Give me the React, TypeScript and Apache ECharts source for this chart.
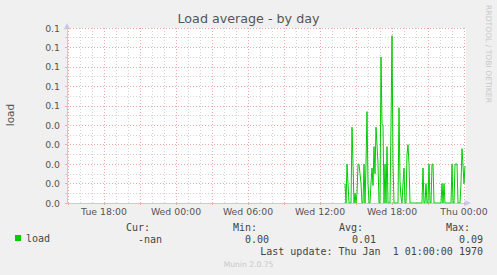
import React, { useEffect, useRef } from "react";
import * as echarts from "echarts";

// Time axis: one sample every 5 minutes, from Tue 14:55 to Thu 00:10
const dayNames = ["Tue", "Wed", "Thu"];
const firstSampleMinute = 14 * 60 + 55;
const stepMinutes = 5;
const sampleCount = 400;

// Load samples: the series starts at Wed 14:05 (sample index 278); earlier samples are unknown (nan)
const loadFirstIndex = 278;
const loadValues = [
  0.01, 0.0, 0.02, 0.01, 0.0, 0.0, 0.0, 0.039, 0.02, 0.0,
  0.005, 0.0, 0.005, 0.02, 0.02, 0.015, 0.01, 0.0, 0.0, 0.02,
  0.0, 0.02, 0.047, 0.01, 0.0, 0.0, 0.01, 0.018, 0.009, 0.029,
  0.015, 0.039, 0.03, 0.02, 0.0, 0.0, 0.075, 0.041, 0.04, 0.0,
  0.02, 0.0, 0.029, 0.0, 0.0, 0.0, 0.04, 0.086, 0.02, 0.0,
  0.0, 0.0, 0.0, 0.0, 0.049, 0.011, 0.003, 0.0, 0.01, 0.018,
  0.0, 0.0, 0.025, 0.03, 0.02, 0.0, 0.0, 0.0, 0.0, 0.0,
  0.0, 0.0, 0.0, 0.0, 0.0, 0.0, 0.0, 0.0, 0.018, 0.0,
  0.0, 0.01, 0.0, 0.0, 0.02, 0.0, 0.0, 0.02, 0.02, 0.0,
  0.0, 0.0, 0.0, 0.0, 0.0, 0.0, 0.0, 0.01, 0.0, 0.01,
  0.0, 0.0, 0.0, 0.0, 0.0, 0.0, 0.0, 0.02, 0.0, 0.0,
  0.02, 0.02, 0.02, 0.0, 0.0, 0.0, 0.01, 0.028, 0.019, 0.01,
  0.019,
];

// Y axis: 0 .. 0.09 step 0.01, labels as printed by rrdtool (%.1f)
const yMax = 0.09;
const yStep = 0.01;
const yTickLabels = ["0.0", "0.0", "0.0", "0.0", "0.0", "0.1", "0.1", "0.1", "0.1", "0.1"];

// X axis: labels every 6 hours, major grid every 3 hours, minor grid every hour
const labelEveryHours = 6;
const majorEveryHours = 3;

// Legend / statistics
const seriesName = "load";
const statLabels = ["Cur:", "Min:", "Avg:", "Max:"];
const statValues = ["-nan", "0.00", "0.01", "0.09"];
const lastUpdate = "Last update: Thu Jan  1 01:00:00 1970";
const titleText = "Load average - by day";
const vendorText = "RRDTOOL / TOBI OETIKER";
const footerText = "Munin 2.0.75";

const pad = (n: number) => (n < 10 ? "0" + n : "" + n);
const minuteOf = (i: number) => firstSampleMinute + i * stepMinutes;
const categories = Array.from({ length: sampleCount }, (_, i) => {
  const m = minuteOf(i);
  const d = Math.floor(m / 1440);
  const hh = Math.floor((m % 1440) / 60);
  const mm = m % 60;
  return `${dayNames[d]} ${pad(hh)}:${pad(mm)}`;
});
const isHour = (i: number) => minuteOf(i) % 60 === 0;
const isMajor = (i: number) => minuteOf(i) % (60 * majorEveryHours) === 0;
const isLabel = (i: number) => minuteOf(i) % (60 * labelEveryHours) === 0;

const seriesData: (number | null)[] = Array.from({ length: sampleCount }, () => null);
loadValues.forEach((v, k) => {
  seriesData[loadFirstIndex + k] = v;
});

const SANS = "DejaVu Sans";
const MONO = "DejaVu Sans Mono";
const axisBlue = "#C3C7F3";
const gridGray = "#D2D2D2";
const gridRed = "#EDA8A8";
const labelColor = "#555555";
const legendColor = "#444444";
const faint = "#C8C8C8";

const statRight = [150, 257, 363, 470];
const valueRight = [162, 269, 376, 483];

export default function App() {
  const ref = useRef<HTMLDivElement>(null);

  useEffect(() => {
    if (!ref.current) return;
    const chart = echarts.init(ref.current, undefined, { renderer: "svg" });

    const graphic: any[] = [
      {
        type: "text",
        x: 9.5,
        y: 115,
        rotation: Math.PI / 2,
        style: { text: "load", font: `10.5px "${SANS}"`, fill: labelColor, align: "center", verticalAlign: "middle" },
      },
      {
        type: "text",
        x: 488.5,
        y: 54,
        rotation: -Math.PI / 2,
        style: { text: vendorText, font: `7.6px "${SANS}"`, fill: faint, align: "center", verticalAlign: "middle" },
      },
      {
        type: "text",
        x: 248.5,
        y: 264,
        style: { text: footerText, font: `7.6px "${SANS}"`, fill: faint, align: "center", verticalAlign: "middle" },
      },
      {
        type: "text",
        x: 483,
        y: 251,
        style: { text: lastUpdate, font: `10px "${MONO}"`, fill: legendColor, align: "right", verticalAlign: "middle" },
      },
    ];
    statLabels.forEach((t, k) => {
      graphic.push({
        type: "text",
        x: statRight[k],
        y: 227.7,
        style: { text: t, font: `10px "${MONO}"`, fill: legendColor, align: "right", verticalAlign: "middle" },
      });
      graphic.push({
        type: "text",
        x: valueRight[k],
        y: 239.3,
        style: { text: statValues[k], font: `10px "${MONO}"`, fill: legendColor, align: "right", verticalAlign: "middle" },
      });
    });

    const option: any = {
      animation: false,
      backgroundColor: "#F0F0F0",
      title: {
        text: titleText,
        left: "center",
        top: 12,
        padding: 0,
        textStyle: { fontFamily: SANS, fontSize: 12.7, fontWeight: "normal", color: labelColor },
      },
      legend: {
        data: [seriesName],
        left: 15,
        top: 233,
        padding: 0,
        icon: "rect",
        itemWidth: 6,
        itemHeight: 6,
        textStyle: { fontFamily: MONO, fontSize: 10, color: legendColor },
      },
      grid: {
        left: 67,
        top: 28,
        width: 399,
        height: 175,
        show: true,
        backgroundColor: "#FFFFFF",
        borderWidth: 0,
      },
      xAxis: [
        {
          type: "category",
          data: categories,
          boundaryGap: false,
          position: "bottom",
          axisLine: {
            show: true,
            onZero: false,
            lineStyle: { color: axisBlue, width: 1 },
            symbol: ["none", "arrow"],
            symbolSize: [5, 7],
            symbolOffset: [0, 5],
          },
          axisTick: { show: false },
          axisLabel: {
            interval: (i: number) => isLabel(i),
            fontFamily: SANS,
            fontSize: 9.33,
            color: labelColor,
            margin: 4,
          },
          splitLine: {
            show: true,
            interval: (i: number) => isHour(i),
            lineStyle: { color: gridGray, width: 1, type: [1, 2] },
          },
        },
        {
          type: "category",
          data: categories,
          boundaryGap: false,
          position: "bottom",
          z: 1,
          axisLine: { show: false, onZero: false },
          axisTick: {
            show: true,
            interval: (i: number) => isMajor(i),
            length: 2,
            lineStyle: { color: gridRed },
          },
          axisLabel: { show: false },
          splitLine: {
            show: true,
            interval: (i: number) => isMajor(i),
            lineStyle: { color: gridRed, width: 1, type: [1, 2] },
          },
        },
      ],
      yAxis: {
        type: "value",
        min: 0,
        max: yMax,
        interval: yStep,
        axisLine: {
          show: true,
          lineStyle: { color: axisBlue, width: 1 },
          symbol: ["none", "arrow"],
          symbolSize: [5, 7],
          symbolOffset: [0, 5],
        },
        axisTick: { show: true, length: 2, lineStyle: { color: gridRed } },
        minorTick: { show: true, splitNumber: 2, length: 2, lineStyle: { color: gridGray } },
        axisLabel: {
          formatter: (v: number) => yTickLabels[Math.round(v / yStep)] ?? "",
          fontFamily: SANS,
          fontSize: 9.33,
          color: labelColor,
          margin: 7,
        },
        splitLine: { show: true, showMinLine: false, lineStyle: { color: gridRed, width: 1, type: [1, 2] } },
        minorSplitLine: { show: true, lineStyle: { color: gridGray, width: 1, type: [1, 2] } },
      },
      series: [
        {
          name: seriesName,
          type: "line",
          xAxisIndex: 0,
          yAxisIndex: 0,
          data: seriesData,
          showSymbol: false,
          symbol: "none",
          connectNulls: false,
          lineStyle: { color: "#00CC00", width: 1 },
          itemStyle: { color: "#00CC00" },
          z: 5,
        },
      ],
      graphic,
    };

    chart.setOption(option);
    return () => chart.dispose();
  }, []);

  return (
    <div
      ref={ref}
      style={{ position: "fixed", left: 0, top: 0, width: 497, height: 275 }}
    />
  );
}
